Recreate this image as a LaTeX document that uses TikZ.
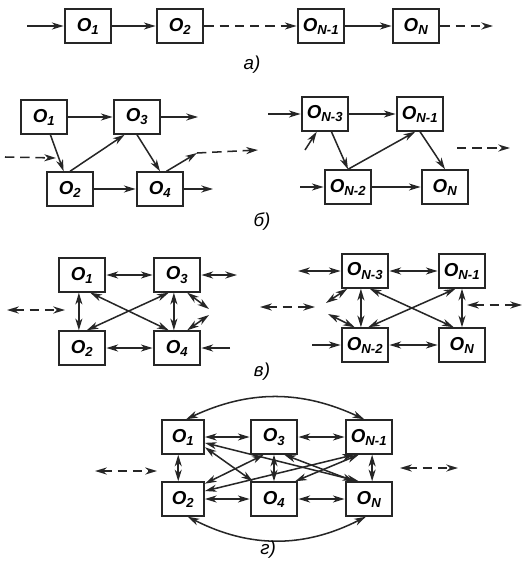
\documentclass[tikz,border=0pt]{standalone}
\usepackage{fontspec}
\newfontfamily\lblfont{Liberation Sans}
\usetikzlibrary{arrows.meta}

\begin{document}
\begin{tikzpicture}[x=0.03cm, y=-0.03cm,
  objbox/.style={
    rectangle, draw=black!85, line width=1.8pt,
    minimum width=1.4cm, minimum height=1.0cm, inner sep=1pt,
    font=\lblfont\bfseries\itshape\fontsize{16}{16}\selectfont
  },
  conn/.style={-{Stealth[length=10pt,width=6pt,inset=3pt]}, line width=1.3pt, draw=black!85},
  biconn/.style={{Stealth[length=10pt,width=6pt,inset=3pt]}-{Stealth[length=10pt,width=6pt,inset=3pt]}, line width=1.3pt, draw=black!85},
  broken/.style={dash pattern=on 8pt off 5pt},
  caption/.style={font=\lblfont\itshape\fontsize{16}{16}\selectfont}
]
\useasboundingbox (0,0) rectangle (530,565);

% a) chain
\node[objbox] (a1) at (88,26)  {O\textsubscript{1}};
\node[objbox] (a2) at (180,26) {O\textsubscript{2}};
\node[objbox] (a3) at (321,26) {O\textsubscript{N-1}};
\node[objbox] (a4) at (416,26) {O\textsubscript{N}};
\coordinate (a0) at (27,26);
\coordinate (a5) at (493,26);

\draw[conn] (a0) -- (a1);
\draw[conn] (a1) -- (a2);
\draw[conn, broken] (a2) -- (a3);
\draw[conn] (a3) -- (a4);
\draw[conn, broken] (a4) -- (a5);
\node[caption] (capa) at (252,65) {а)};

% b) one-way links
\node[objbox] (b1) at (44,117)  {O\textsubscript{1}};
\node[objbox] (b3) at (137,117) {O\textsubscript{3}};
\node[objbox] (b2) at (70,189)  {O\textsubscript{2}};
\node[objbox] (b4) at (160,189) {O\textsubscript{4}};
\coordinate (bi1) at (5,157);
\coordinate (bi2) at (56,158);
\coordinate (bo1) at (198,117);
\coordinate (bo2) at (213,189);
\coordinate (bm)  at (197,153);
\coordinate (bo3) at (258,150);

\draw[conn] (b1) -- (b3);
\draw[conn] (b3) -- (bo1);
\draw[conn] (b1) -- (b2);
\draw[conn, broken] (bi1) -- (bi2);
\draw[conn] (b2.north) -- (b3.235);
\draw[conn] (b3.south) -- (b4.north);
\draw[conn] (b2) -- (b4);
\draw[conn] (b4) -- (bo2);
\draw[conn] (b4.70) -- (bm);
\draw[conn, broken] (bm) -- (bo3);

\node[objbox] (c1) at (325,114) {O\textsubscript{N-3}};
\node[objbox] (c3) at (420,114) {O\textsubscript{N-1}};
\node[objbox] (c2) at (348,187) {O\textsubscript{N-2}};
\node[objbox] (c4) at (445,187) {O\textsubscript{N}};
\coordinate (ci1) at (268,114);
\coordinate (ci2) at (305,150);
\coordinate (ci3) at (300,187);
\coordinate (cd1) at (457,148);
\coordinate (cd2) at (510,148);

\draw[conn] (ci1) -- (c1);
\draw[conn] (c1) -- (c3);
\draw[conn] (ci2) -- (c1.245);
\draw[conn] (c1.290) -- (c2.north);
\draw[conn] (c2.north) -- (c3.255);
\draw[conn] (c3.south) -- (c4.north);
\draw[conn] (ci3) -- (c2);
\draw[conn] (c2) -- (c4);
\draw[conn, broken] (cd1) -- (cd2);
\node[caption] (capb) at (262,222) {б)};

% c) two-way links
\begin{scope}[every node/.append style={minimum height=1.05cm}]
\node[objbox] (d1) at (82,275)  {O\textsubscript{1}};
\node[objbox] (d3) at (177,275) {O\textsubscript{3}};
\node[objbox] (d2) at (82,348)  {O\textsubscript{2}};
\node[objbox] (d4) at (177,348) {O\textsubscript{4}};
\end{scope}
\coordinate (do1) at (237,275);
\coordinate (dl1) at (7,310);
\coordinate (dl2) at (65,310);
\coordinate (ds1) at (209,309);
\coordinate (ds2) at (209,315);
\coordinate (di)  at (230,348);

\draw[biconn] (d1) -- (d3);
\draw[biconn] (d3) -- (do1);
\draw[biconn, broken] (dl1) -- (dl2);
\draw[biconn] (d1.260) -- (d2.100);
\draw[biconn] (d1.-65) -- (d4.115);
\draw[biconn] (d3.245) -- (d2.75);
\draw[biconn] (d3.260) -- (d4.100);
\draw[biconn] (d3.-60) -- (ds1);
\draw[biconn] (ds2) -- (d4.60);
\draw[biconn] (d2) -- (d4);
\draw[conn] (di) -- (d4);

\begin{scope}[every node/.append style={minimum width=1.5cm, minimum height=1.02cm}]
\node[objbox] (e1) at (365,271) {O\textsubscript{N-3}};
\node[objbox] (e3) at (462,271) {O\textsubscript{N-1}};
\node[objbox] (e2) at (365,345) {O\textsubscript{N-2}};
\node[objbox] (e4) at (462,345) {O\textsubscript{N}};
\end{scope}
\coordinate (el)  at (298,271);
\coordinate (el1) at (260,307);
\coordinate (el2) at (315,307);
\coordinate (es1) at (326,303);
\coordinate (es2) at (328,314);
\coordinate (er1) at (467,305);
\coordinate (er2) at (522,305);
\coordinate (ei)  at (312,345);

\draw[biconn] (el) -- (e1);
\draw[biconn] (e1) -- (e3);
\draw[biconn, broken] (el1) -- (el2);
\draw[biconn] (e1.225) -- (es1);
\draw[biconn] (es2) -- (e2.120);
\draw[biconn] (e1.257) -- (e2.103);
\draw[biconn] (e1.-75) -- (e4.115);
\draw[biconn] (e3.250) -- (e2.80);
\draw[biconn] (e3) -- (e4);
\draw[biconn, broken] (er1) -- (er2);
\draw[conn] (ei) -- (e2);
\draw[biconn] (e2) -- (e4);
\node[caption] (capc) at (262,372) {в)};

% d) full mesh
\begin{scope}[every node/.append style={minimum width=1.5cm, minimum height=0.93cm}]
\node[objbox, minimum width=1.25cm] (f1) at (183,437) {O\textsubscript{1}};
\node[objbox] (f3) at (274,437) {O\textsubscript{3}};
\node[objbox] (f5) at (369,437) {O\textsubscript{N-1}};
\node[objbox, minimum width=1.25cm] (f2) at (183,499) {O\textsubscript{2}};
\node[objbox] (f4) at (274,499) {O\textsubscript{4}};
\node[objbox] (f6) at (369,499) {O\textsubscript{N}};
\end{scope}
\coordinate (fl1) at (95,471);
\coordinate (fl2) at (157,471);
\coordinate (fr1) at (400,468);
\coordinate (fr2) at (458,468);

\draw[biconn] (f1) -- (f3);
\draw[biconn] (f3) -- (f5);
\draw[biconn] (f2) -- (f4);
\draw[biconn] (f4) -- (f6);
\draw[biconn] (f1.255) -- (f2.105);
\draw[biconn] (f3) -- (f4);
\draw[biconn] (f5.-80) -- (f6.80);
\draw[biconn] (f1.-25) -- (f4.140);
\draw[biconn] (f1.-15) -- (f6.120);
\draw[biconn] (f3.-60) -- (f6.130);
\draw[biconn] (f3.240) -- (f2.35);
\draw[biconn] (f5.230) -- (f2.20);
\draw[biconn] (f5.240) -- (f4.40);
\draw[biconn] (f1.80) to[bend left=25] (f5.105);
\draw[biconn] (f2.-75) to[bend right=27] (f6.-100);
\draw[biconn, broken] (fl1) -- (fl2);
\draw[biconn, broken] (fr1) -- (fr2);
\node[caption] (capd) at (268,550) {г)};
\end{tikzpicture}
\end{document}
